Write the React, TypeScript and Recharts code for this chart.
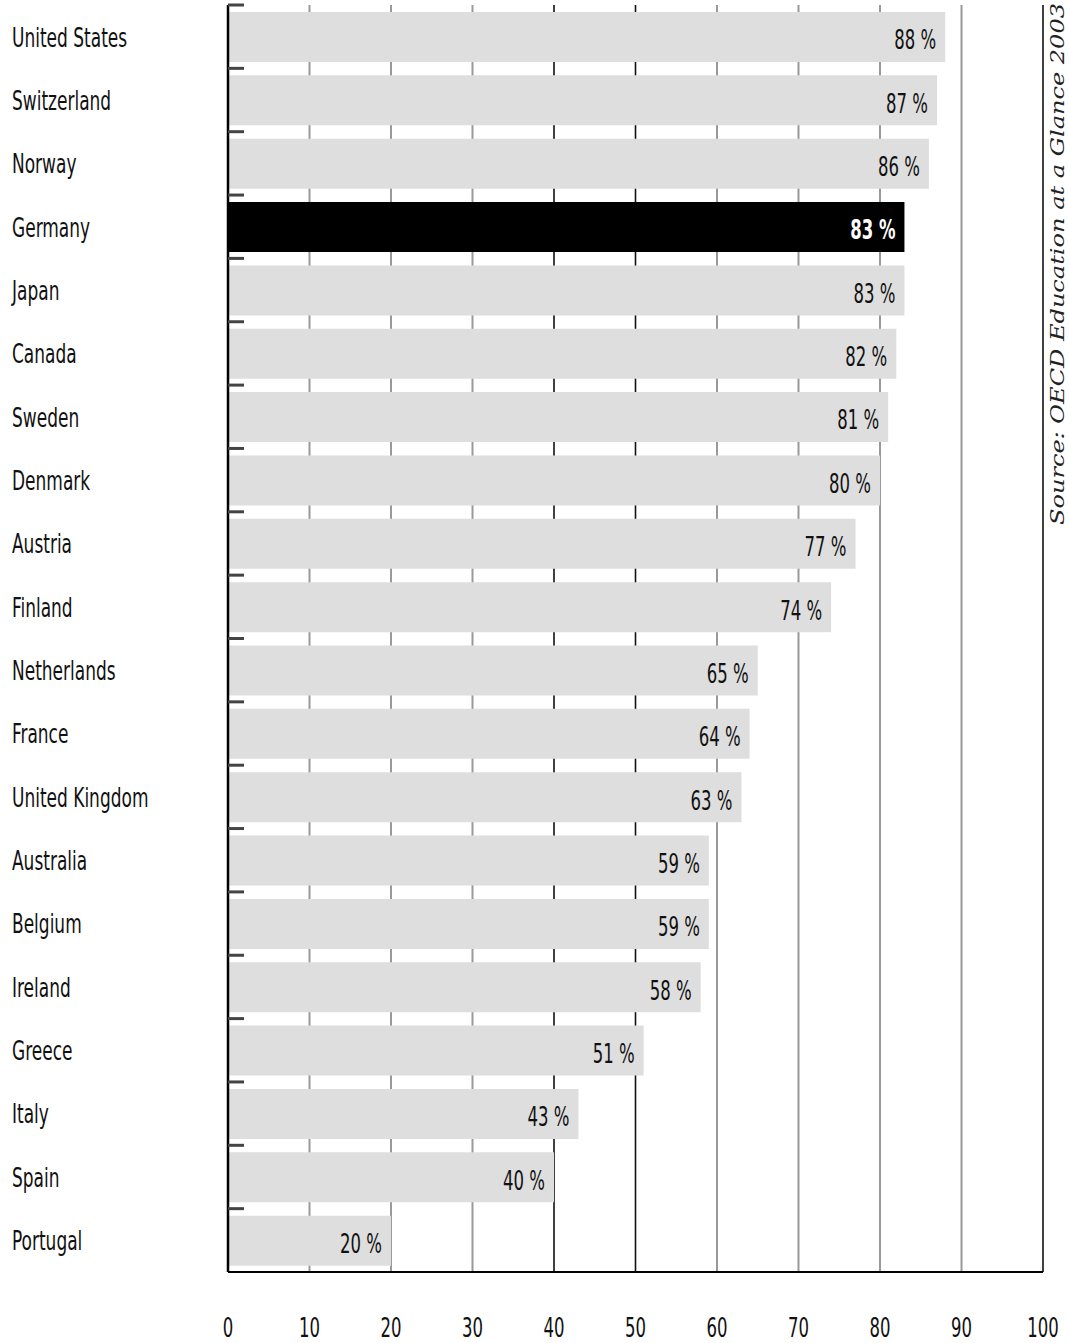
import { BarChart, Bar, XAxis, YAxis, CartesianGrid, Cell, LabelList } from 'recharts';

const countries = [
  'United States', 'Switzerland', 'Norway', 'Germany', 'Japan', 'Canada', 'Sweden',
  'Denmark', 'Austria', 'Finland', 'Netherlands', 'France', 'United Kingdom',
  'Australia', 'Belgium', 'Ireland', 'Greece', 'Italy', 'Spain', 'Portugal',
];
const shares = [88, 87, 86, 83, 83, 82, 81, 80, 77, 74, 65, 64, 63, 59, 59, 58, 51, 43, 40, 20];
const xTicks = [0, 10, 20, 30, 40, 50, 60, 70, 80, 90, 100];
const highlight = 'Germany';
const source = 'Source: OECD Education at a Glance 2003';

const data = countries.map((country, i) => ({ country, value: shares[i] }));

const W = 1069;
const H = 1343;
const margin = { top: 5, right: 26, left: 0, bottom: 0 };
const X_AXIS_H = 71;
const Y_AXIS_W = 228;
const band = (H - margin.top - X_AXIS_H) / countries.length;
const font = "'Liberation Sans Narrow', 'DejaVu Sans Condensed', 'Arial Narrow', sans-serif";

// grid lines at 40, 50 and 100 are black in the original, the rest grey
const darkLines = [4, 5, 10];

const CountryTick = (props: any) => {
  const { y, payload } = props;
  return (
    <g>
      <line x1={Y_AXIS_W} x2={Y_AXIS_W + 16} y1={y - band / 2} y2={y - band / 2} stroke="#444" strokeWidth={3} />
      <text
        transform={`translate(12, ${y}) scale(0.7, 1)`}
        x={0}
        y={0}
        fontFamily={font}
        fontSize={27}
        fill="#111"
        dominantBaseline="central"
      >
        {payload.value}
      </text>
    </g>
  );
};

const ValueTick = (props: any) => {
  const { x, y, payload } = props;
  return (
    <text
      transform={`translate(${x}, ${y + 56}) scale(0.68, 1)`}
      x={0}
      y={0}
      fontFamily={font}
      fontSize={27}
      fill="#111"
      textAnchor="middle"
      dominantBaseline="central"
    >
      {payload.value}
    </text>
  );
};

const BarValue = (props: any) => {
  const { x, y, width, height, value, index } = props;
  const isHi = countries[index] === highlight;
  return (
    <text
      transform={`translate(${x + width - 9}, ${y + height / 2 + 3}) scale(0.68, 1)`}
      x={0}
      y={0}
      fontFamily={font}
      fontSize={27}
      fontWeight={isHi ? 'bold' : 'normal'}
      fill={isHi ? '#fff' : '#111'}
      textAnchor="end"
      dominantBaseline="central"
    >
      {`${value} %`}
    </text>
  );
};

const GridLine = (props: any) => {
  const { x1, x2, y1, y2, index } = props;
  const dark = darkLines.includes(index);
  return (
    <line
      key={`g-${index}`}
      x1={x1}
      x2={x2}
      y1={y1}
      y2={y2}
      stroke={dark ? '#111' : '#999'}
      strokeWidth={dark ? 1.6 : 2}
    />
  );
};

export default function App() {
  return (
    <div style={{ position: 'absolute', left: 0, top: 0, width: W, height: H, background: '#fff' }}>
      <BarChart width={W} height={H} data={data} layout="vertical" margin={margin} barSize={50}>
        <CartesianGrid horizontal={false} vertical={GridLine} />
        <XAxis
          type="number"
          domain={[0, 100]}
          ticks={xTicks}
          interval={0}
          height={X_AXIS_H}
          tickLine={false}
          tickSize={0}
          tickMargin={0}
          axisLine={{ stroke: '#000', strokeWidth: 2 }}
          tick={<ValueTick />}
        />
        <YAxis
          type="category"
          dataKey="country"
          width={Y_AXIS_W}
          interval={0}
          tickLine={false}
          axisLine={{ stroke: '#000', strokeWidth: 2.5 }}
          tick={<CountryTick />}
        />
        <Bar dataKey="value" isAnimationActive={false}>
          {data.map((d) => (
            <Cell key={d.country} fill={d.country === highlight ? '#000' : '#dedede'} />
          ))}
          <LabelList dataKey="value" content={<BarValue />} />
        </Bar>
      </BarChart>
      <svg width={W} height={H} style={{ position: 'absolute', left: 0, top: 0, pointerEvents: 'none' }}>
        <text
          x={1057}
          y={264}
          transform="rotate(-90, 1057, 264)"
          fontFamily="'DejaVu Serif', 'Liberation Serif', serif"
          fontStyle="italic"
          fontSize={19}
          fill="#222"
          textAnchor="middle"
          dominantBaseline="central"
          textLength={522}
          lengthAdjust="spacingAndGlyphs"
        >
          {source}
        </text>
      </svg>
    </div>
  );
}
